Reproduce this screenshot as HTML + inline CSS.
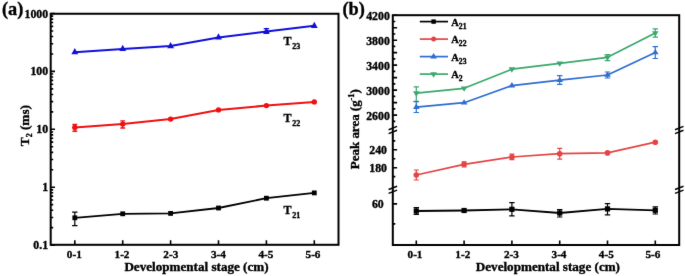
<!DOCTYPE html>
<html><head><meta charset="utf-8"><style>
html,body{margin:0;padding:0;background:#fff;}
body{width:685px;height:276px;overflow:hidden;}
svg{display:block;}
text{font-family:"Liberation Serif", serif;font-weight:bold;fill:#000;stroke:#000;stroke-width:0.35px;}
.t{font-size:11.2px;}
.ty{font-size:11.8px;}
.ax{font-size:12.6px;}
.tl{font-size:12px;}
.lg{font-size:10.5px;}
.pl{font-size:18.3px;}
</style></head><body>
<svg width="685" height="276" viewBox="0 0 685 276">
<defs><filter id="bl" x="0" y="0" width="100%" height="100%" color-interpolation-filters="sRGB"><feConvolveMatrix order="3" kernelMatrix="0.0052 0.0619 0.0052 0.0619 0.7314 0.0619 0.0052 0.0619 0.0052" divisor="1" edgeMode="duplicate"/></filter></defs>
<g filter="url(#bl)">
<rect width="685" height="276" fill="#fff"/>
<path d="M50.7,245.10h4.3 M50.7,227.67h2.5 M50.7,217.47h2.5 M50.7,210.24h2.5 M50.7,204.63h2.5 M50.7,200.05h2.5 M50.7,196.17h2.5 M50.7,192.81h2.5 M50.7,189.85h2.5 M50.7,187.20h4.3 M50.7,169.77h2.5 M50.7,159.57h2.5 M50.7,152.34h2.5 M50.7,146.73h2.5 M50.7,142.15h2.5 M50.7,138.27h2.5 M50.7,134.91h2.5 M50.7,131.95h2.5 M50.7,129.30h4.3 M50.7,111.87h2.5 M50.7,101.67h2.5 M50.7,94.44h2.5 M50.7,88.83h2.5 M50.7,84.25h2.5 M50.7,80.37h2.5 M50.7,77.01h2.5 M50.7,74.05h2.5 M50.7,71.40h4.3 M50.7,53.97h2.5 M50.7,43.77h2.5 M50.7,36.54h2.5 M50.7,30.93h2.5 M50.7,26.35h2.5 M50.7,22.47h2.5 M50.7,19.11h2.5 M50.7,16.15h2.5 M50.7,13.50h4.3 M74.80,244.8v-4.6 M122.70,244.8v-4.6 M170.60,244.8v-4.6 M218.50,244.8v-4.6 M266.40,244.8v-4.6 M314.30,244.8v-4.6" stroke="#000" stroke-width="1.6" fill="none"/>
<rect x="50.7" y="13.75" width="287.8" height="231.05" fill="none" stroke="#000" stroke-width="2.0"/>
<text x="48.1" y="249.15" text-anchor="end" class="ty">0.1</text>
<text x="48.1" y="191.25" text-anchor="end" class="ty">1</text>
<text x="48.1" y="133.35" text-anchor="end" class="ty">10</text>
<text x="48.1" y="75.45" text-anchor="end" class="ty">100</text>
<text x="48.1" y="17.55" text-anchor="end" class="ty">1000</text>
<text x="74.30" y="257.8" text-anchor="middle" class="t">0-1</text>
<text x="122.00" y="257.8" text-anchor="middle" class="t">1-2</text>
<text x="170.80" y="257.8" text-anchor="middle" class="t">2-3</text>
<text x="218.40" y="257.8" text-anchor="middle" class="t">3-4</text>
<text x="265.90" y="257.8" text-anchor="middle" class="t">4-5</text>
<text x="313.00" y="257.8" text-anchor="middle" class="t">5-6</text>
<text x="196.5" y="270.9" text-anchor="middle" class="ax" textLength="144.2" lengthAdjust="spacingAndGlyphs">Developmental stage (cm)</text>
<text transform="translate(28.7,125.6) rotate(-90)" text-anchor="middle" class="ax" textLength="41.2" lengthAdjust="spacingAndGlyphs">T<tspan font-size="7.5" dy="3.3">2</tspan><tspan dy="-3.3"> (ms)</tspan></text>
<text x="2.0" y="14.6" class="pl">(a)</text>
<polyline points="74.80,52.20 122.70,48.90 170.60,46.10 218.50,37.40 266.40,31.50 314.30,25.80" fill="none" stroke="#1010d8" stroke-width="2.0" stroke-linejoin="round"/>
<path d="M266.40,28.60V33.40M263.70,28.60h5.4M263.70,33.40h5.4" stroke="#1010d8" stroke-width="1.2" fill="none"/>
<path d="M74.80,48.11L78.20,54.31L71.40,54.31Z" fill="#1010d8"/>
<path d="M122.70,44.81L126.10,51.01L119.30,51.01Z" fill="#1010d8"/>
<path d="M170.60,42.01L174.00,48.21L167.20,48.21Z" fill="#1010d8"/>
<path d="M218.50,33.31L221.90,39.51L215.10,39.51Z" fill="#1010d8"/>
<path d="M266.40,27.41L269.80,33.61L263.00,33.61Z" fill="#1010d8"/>
<path d="M314.30,21.71L317.70,27.91L310.90,27.91Z" fill="#1010d8"/>
<polyline points="74.80,127.40 122.70,124.10 170.60,119.10 218.50,109.90 266.40,105.60 314.30,101.90" fill="none" stroke="#ee1111" stroke-width="2.0" stroke-linejoin="round"/>
<path d="M74.80,124.50V131.20M72.40,124.50h4.8M72.40,131.20h4.8" stroke="#ee1111" stroke-width="1.4" fill="none"/>
<path d="M122.70,120.90V128.00M120.30,120.90h4.8M120.30,128.00h4.8" stroke="#ee1111" stroke-width="1.4" fill="none"/>
<circle cx="74.80" cy="127.40" r="2.7" fill="#ee1111"/>
<circle cx="122.70" cy="124.10" r="2.7" fill="#ee1111"/>
<circle cx="170.60" cy="119.10" r="2.7" fill="#ee1111"/>
<circle cx="218.50" cy="109.90" r="2.7" fill="#ee1111"/>
<circle cx="266.40" cy="105.60" r="2.7" fill="#ee1111"/>
<circle cx="314.30" cy="101.90" r="2.7" fill="#ee1111"/>
<polyline points="74.80,217.80 122.70,213.80 170.60,213.40 218.50,208.00 266.40,198.20 314.30,192.90" fill="none" stroke="#000" stroke-width="1.8" stroke-linejoin="round"/>
<path d="M74.80,212.20V225.60M72.10,212.20h5.4M72.10,225.60h5.4" stroke="#000" stroke-width="1.2" fill="none"/>
<rect x="72.40" y="215.40" width="4.8" height="4.8" fill="#000"/>
<rect x="120.30" y="211.40" width="4.8" height="4.8" fill="#000"/>
<rect x="168.20" y="211.00" width="4.8" height="4.8" fill="#000"/>
<rect x="216.10" y="205.60" width="4.8" height="4.8" fill="#000"/>
<rect x="264.00" y="195.80" width="4.8" height="4.8" fill="#000"/>
<rect x="311.90" y="190.50" width="4.8" height="4.8" fill="#000"/>
<text x="283.6" y="44.8" class="tl">T<tspan font-size="8" dx="0.6" dy="4.2">23</tspan></text>
<text x="283.6" y="121.5" class="tl">T<tspan font-size="8" dx="0.6" dy="4.2">22</tspan></text>
<text x="283.6" y="214.2" class="tl">T<tspan font-size="8" dx="0.6" dy="4.2">21</tspan></text>
<path d="M392.8,15.20h4.3 M392.8,21.44h2.5 M392.8,27.69h4.3 M392.8,33.93h2.5 M392.8,40.18h4.3 M392.8,46.42h2.5 M392.8,52.66h4.3 M392.8,58.91h2.5 M392.8,65.15h4.3 M392.8,71.40h2.5 M392.8,77.64h4.3 M392.8,83.88h2.5 M392.8,90.13h4.3 M392.8,96.37h2.5 M392.8,102.62h4.3 M392.8,108.86h2.5 M392.8,115.10h4.3 M392.8,121.35h2.5 M392.8,140.85h2.5 M392.8,149.80h4.3 M392.8,158.75h2.5 M392.8,167.70h4.3 M392.8,176.65h2.5 M392.8,203.90h4.3 M392.8,223.90h2.5 M416.30,245.0v-4.6 M464.10,245.0v-4.6 M511.90,245.0v-4.6 M559.70,245.0v-4.6 M607.50,245.0v-4.6 M655.30,245.0v-4.6" stroke="#000" stroke-width="1.6" fill="none"/>
<rect x="392.8" y="15.2" width="286.40000000000003" height="229.8" fill="none" stroke="#000" stroke-width="2.0"/>
<path d="M388.60,129.70l8.5,-3.3M388.60,133.60l8.5,-3.3" stroke="#000" stroke-width="1.5" fill="none"/>
<path d="M388.60,189.50l8.5,-3.3M388.60,193.40l8.5,-3.3" stroke="#000" stroke-width="1.5" fill="none"/>
<path d="M675.00,129.70l8.5,-3.3M675.00,133.60l8.5,-3.3" stroke="#000" stroke-width="1.5" fill="none"/>
<path d="M675.00,189.50l8.5,-3.3M675.00,193.40l8.5,-3.3" stroke="#000" stroke-width="1.5" fill="none"/>
<text x="389.8" y="19.70" text-anchor="end" class="ty">4200</text>
<text x="389.8" y="44.68" text-anchor="end" class="ty">3800</text>
<text x="389.8" y="69.65" text-anchor="end" class="ty">3400</text>
<text x="389.8" y="94.63" text-anchor="end" class="ty">3000</text>
<text x="389.8" y="119.60" text-anchor="end" class="ty">2600</text>
<text x="387.0" y="153.80" text-anchor="end" class="ty">240</text>
<text x="387.0" y="171.70" text-anchor="end" class="ty">180</text>
<text x="383.7" y="208.40" text-anchor="end" class="ty">60</text>
<text x="415.00" y="258.2" text-anchor="middle" class="t">0-1</text>
<text x="462.80" y="258.2" text-anchor="middle" class="t">1-2</text>
<text x="511.40" y="258.2" text-anchor="middle" class="t">2-3</text>
<text x="559.00" y="258.2" text-anchor="middle" class="t">3-4</text>
<text x="606.30" y="258.2" text-anchor="middle" class="t">4-5</text>
<text x="652.90" y="258.2" text-anchor="middle" class="t">5-6</text>
<text x="547.9" y="270.9" text-anchor="middle" class="ax" textLength="144.2" lengthAdjust="spacingAndGlyphs">Developmental stage (cm)</text>
<text transform="translate(359.2,129.2) rotate(-90)" text-anchor="middle" class="ax" textLength="80" lengthAdjust="spacingAndGlyphs">Peak area (g<tspan font-size="8" dy="-4.8">-1</tspan><tspan dy="4.8">)</tspan></text>
<text x="342.4" y="14.6" class="pl">(b)</text>
<polyline points="416.30,93.20 464.10,88.30 511.90,69.20 559.70,63.30 607.50,57.30 655.30,33.00" fill="none" stroke="#3aa86c" stroke-width="1.7" stroke-linejoin="round"/>
<path d="M416.30,86.90V101.40M413.60,86.90h5.4M413.60,101.40h5.4" stroke="#3aa86c" stroke-width="1.2" fill="none"/>
<path d="M607.50,54.60V60.60M604.80,54.60h5.4M604.80,60.60h5.4" stroke="#3aa86c" stroke-width="1.2" fill="none"/>
<path d="M655.30,28.80V37.20M652.60,28.80h5.4M652.60,37.20h5.4" stroke="#3aa86c" stroke-width="1.2" fill="none"/>
<path d="M416.30,96.76L419.60,91.36L413.00,91.36Z" fill="#3aa86c"/>
<path d="M464.10,91.86L467.40,86.46L460.80,86.46Z" fill="#3aa86c"/>
<path d="M511.90,72.76L515.20,67.36L508.60,67.36Z" fill="#3aa86c"/>
<path d="M559.70,66.86L563.00,61.46L556.40,61.46Z" fill="#3aa86c"/>
<path d="M607.50,60.86L610.80,55.46L604.20,55.46Z" fill="#3aa86c"/>
<path d="M655.30,36.56L658.60,31.16L652.00,31.16Z" fill="#3aa86c"/>
<polyline points="416.30,107.10 464.10,102.70 511.90,85.60 559.70,80.20 607.50,75.00 655.30,52.50" fill="none" stroke="#2d6dd2" stroke-width="1.7" stroke-linejoin="round"/>
<path d="M416.30,101.60V112.50M413.60,101.60h5.4M413.60,112.50h5.4" stroke="#2d6dd2" stroke-width="1.2" fill="none"/>
<path d="M559.70,75.60V84.30M557.00,75.60h5.4M557.00,84.30h5.4" stroke="#2d6dd2" stroke-width="1.2" fill="none"/>
<path d="M607.50,72.00V78.00M604.80,72.00h5.4M604.80,78.00h5.4" stroke="#2d6dd2" stroke-width="1.2" fill="none"/>
<path d="M655.30,46.60V58.50M652.60,46.60h5.4M652.60,58.50h5.4" stroke="#2d6dd2" stroke-width="1.2" fill="none"/>
<path d="M416.30,103.54L419.60,108.94L413.00,108.94Z" fill="#2d6dd2"/>
<path d="M464.10,99.14L467.40,104.54L460.80,104.54Z" fill="#2d6dd2"/>
<path d="M511.90,82.04L515.20,87.44L508.60,87.44Z" fill="#2d6dd2"/>
<path d="M559.70,76.64L563.00,82.04L556.40,82.04Z" fill="#2d6dd2"/>
<path d="M607.50,71.44L610.80,76.84L604.20,76.84Z" fill="#2d6dd2"/>
<path d="M655.30,48.94L658.60,54.34L652.00,54.34Z" fill="#2d6dd2"/>
<polyline points="416.30,175.00 464.10,164.30 511.90,157.00 559.70,153.70 607.50,152.90 655.30,142.20" fill="none" stroke="#e44444" stroke-width="1.7" stroke-linejoin="round"/>
<path d="M416.30,170.00V180.00M413.80,170.00h5.0M413.80,180.00h5.0" stroke="#e44444" stroke-width="1.2" fill="none"/>
<path d="M464.10,161.90V166.90M461.60,161.90h5.0M461.60,166.90h5.0" stroke="#e44444" stroke-width="1.2" fill="none"/>
<path d="M511.90,154.10V159.70M509.40,154.10h5.0M509.40,159.70h5.0" stroke="#e44444" stroke-width="1.2" fill="none"/>
<path d="M559.70,148.40V159.20M557.20,148.40h5.0M557.20,159.20h5.0" stroke="#e44444" stroke-width="1.2" fill="none"/>
<circle cx="416.30" cy="175.00" r="2.8" fill="#e44444"/>
<circle cx="464.10" cy="164.30" r="2.8" fill="#e44444"/>
<circle cx="511.90" cy="157.00" r="2.8" fill="#e44444"/>
<circle cx="559.70" cy="153.70" r="2.8" fill="#e44444"/>
<circle cx="607.50" cy="152.90" r="2.8" fill="#e44444"/>
<circle cx="655.30" cy="142.20" r="2.8" fill="#e44444"/>
<polyline points="416.30,211.00 464.10,210.50 511.90,209.30 559.70,213.00 607.50,208.90 655.30,210.30" fill="none" stroke="#000" stroke-width="1.8" stroke-linejoin="round"/>
<path d="M416.30,207.70V214.40M413.60,207.70h5.4M413.60,214.40h5.4" stroke="#000" stroke-width="1.2" fill="none"/>
<path d="M511.90,202.60V215.80M509.20,202.60h5.4M509.20,215.80h5.4" stroke="#000" stroke-width="1.2" fill="none"/>
<path d="M559.70,209.70V217.00M557.00,209.70h5.4M557.00,217.00h5.4" stroke="#000" stroke-width="1.2" fill="none"/>
<path d="M607.50,203.60V214.80M604.80,203.60h5.4M604.80,214.80h5.4" stroke="#000" stroke-width="1.2" fill="none"/>
<path d="M655.30,206.90V214.00M652.60,206.90h5.4M652.60,214.00h5.4" stroke="#000" stroke-width="1.2" fill="none"/>
<rect x="413.70" y="208.40" width="5.2" height="5.2" fill="#000"/>
<rect x="461.50" y="207.90" width="5.2" height="5.2" fill="#000"/>
<rect x="509.30" y="206.70" width="5.2" height="5.2" fill="#000"/>
<rect x="557.10" y="210.40" width="5.2" height="5.2" fill="#000"/>
<rect x="604.90" y="206.30" width="5.2" height="5.2" fill="#000"/>
<rect x="652.70" y="207.70" width="5.2" height="5.2" fill="#000"/>
<line x1="419.8" y1="21.60" x2="448" y2="21.60" stroke="#000" stroke-width="1.7"/>
<rect x="431.40" y="19.40" width="4.4" height="4.4" fill="#000"/>
<line x1="419.8" y1="39.10" x2="448" y2="39.10" stroke="#e44444" stroke-width="1.7"/>
<circle cx="433.60" cy="39.10" r="2.5" fill="#e44444"/>
<line x1="419.8" y1="56.60" x2="448" y2="56.60" stroke="#2d6dd2" stroke-width="1.7"/>
<path d="M433.60,53.04L436.90,58.44L430.30,58.44Z" fill="#2d6dd2"/>
<line x1="419.8" y1="74.10" x2="448" y2="74.10" stroke="#3aa86c" stroke-width="1.7"/>
<path d="M433.60,77.66L436.90,72.26L430.30,72.26Z" fill="#3aa86c"/>
<text x="451.2" y="25.90" class="lg">A<tspan font-size="7.7" dy="2.9">21</tspan></text>
<text x="451.2" y="43.40" class="lg">A<tspan font-size="7.7" dy="2.9">22</tspan></text>
<text x="451.2" y="60.90" class="lg">A<tspan font-size="7.7" dy="2.9">23</tspan></text>
<text x="451.2" y="78.40" class="lg">A<tspan font-size="7.7" dy="2.9">2</tspan></text>
</g>
</svg>
</body></html>
